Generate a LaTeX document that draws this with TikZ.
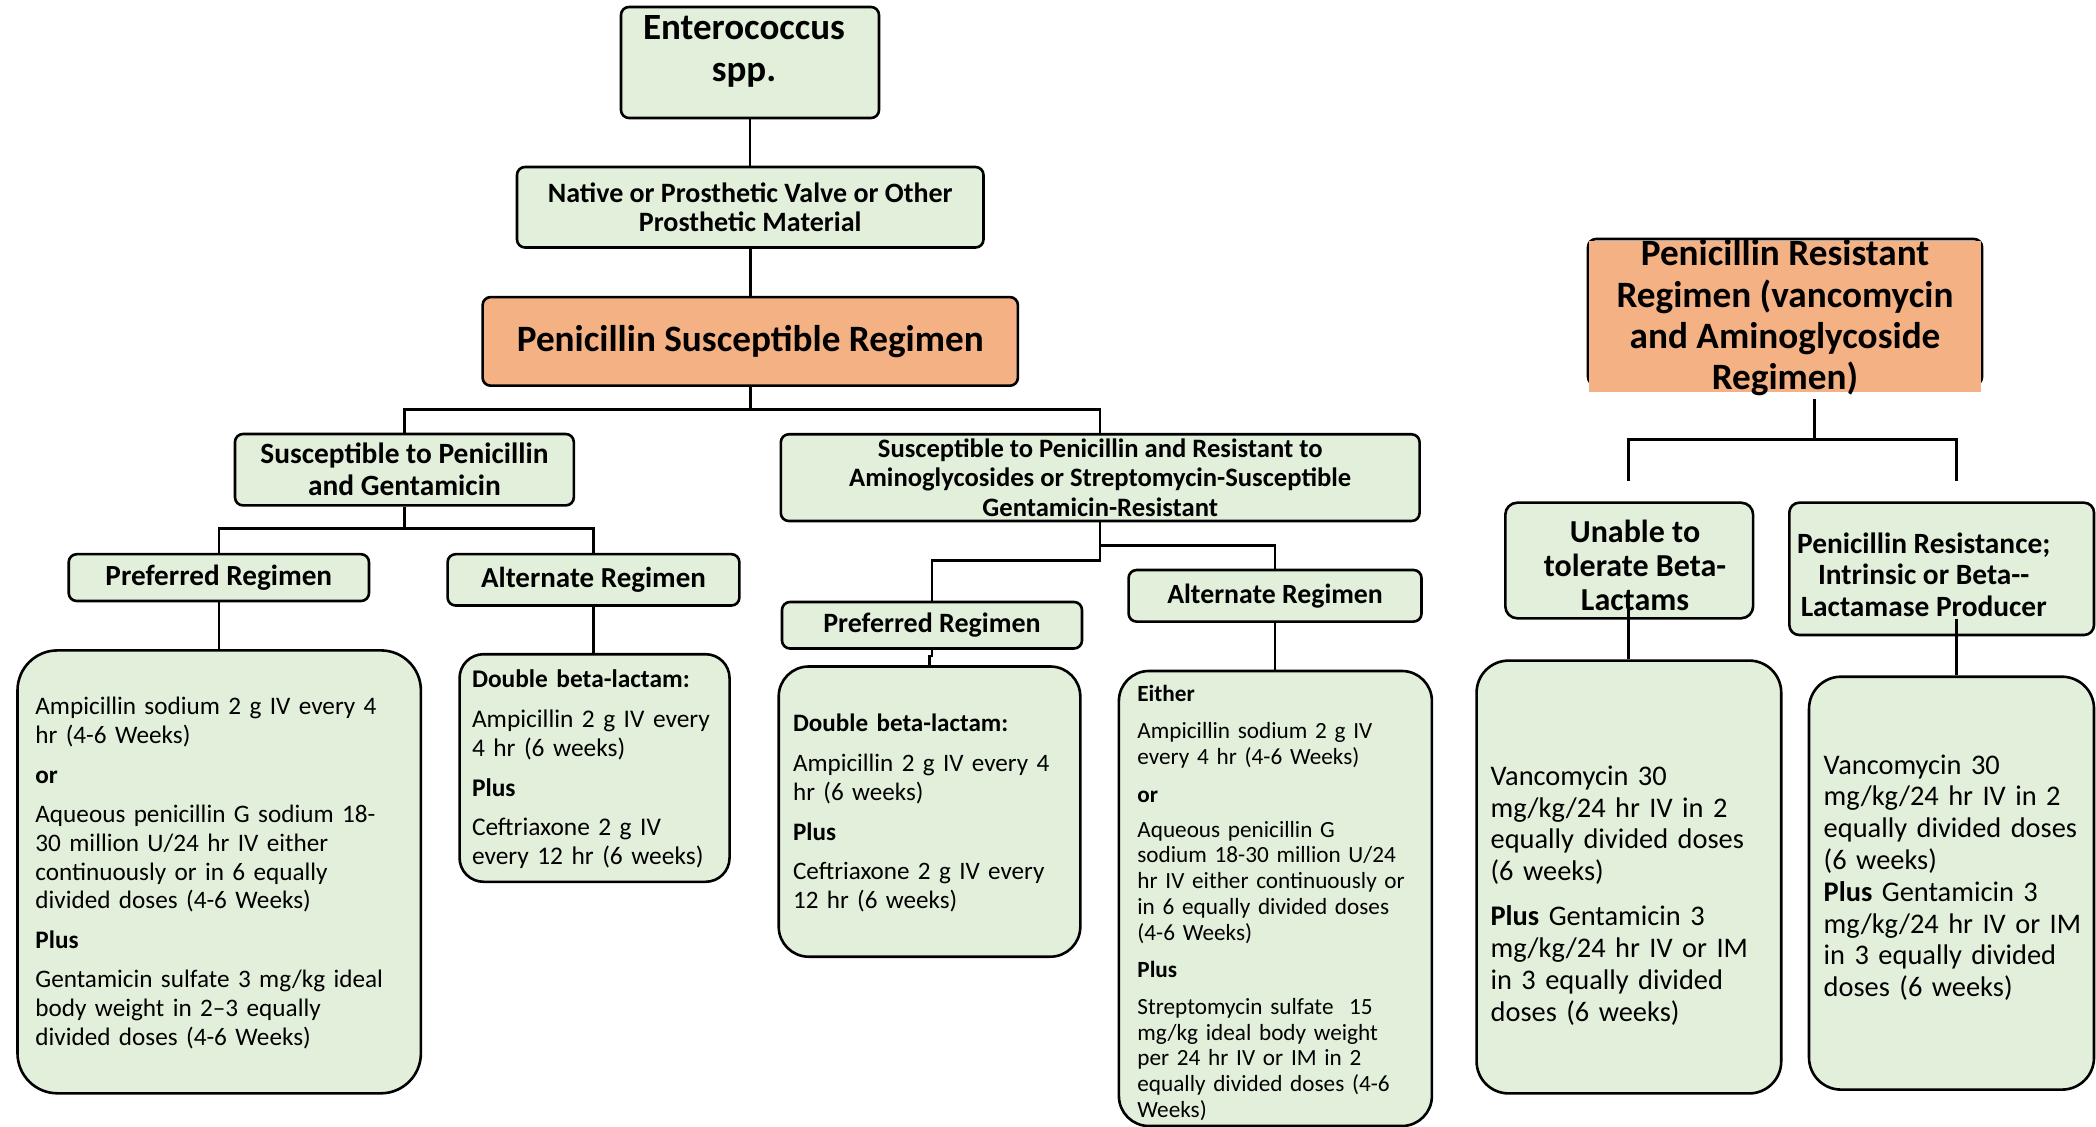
\documentclass[tikz,border=0pt]{standalone}
\usepackage{fontspec}
\setmainfont{Carlito}
\definecolor{boxgreen}{RGB}{226,239,218}
\definecolor{boxorange}{RGB}{244,177,131}
\newcommand\setfsz[2]{\fontsize{#1}{#2}\selectfont}

\tikzset{
  hbox/.style={draw=black, fill=boxgreen, line width=1.3pt, rounded corners=4pt,
    inner sep=0pt, align=center},
  cbox/.style={draw=black, fill=boxgreen, line width=1.3pt, inner sep=0pt},
  htxt/.style={inner sep=0pt, align=center},
  body/.style={inner sep=0pt, anchor=base west, align=left},
  link/.style={draw=black, line width=1.25pt},
}

\begin{document}
\begin{tikzpicture}[x=0.5pt,y=-0.5pt]
\fill[white] (0,0) rectangle (2096,1127);
\useasboundingbox (0,0) rectangle (2096,1127);

% ---------- top of the penicillin-susceptible tree ----------
\node[hbox, minimum width=129pt, minimum height=55.5pt] (ent) at (750,62.5) {};
\node[htxt, text width=129pt, anchor=base, font=\bfseries\setfsz{18.5pt}{20.8pt}]
  (enttxt) at (744,39.5) {Enterococcus\\spp.};

\node[hbox, minimum width=233.25pt, minimum height=40.25pt,
  font=\bfseries\setfsz{14pt}{14.6pt}] (nat) at (750.25,207.25)
  {Native or Prosthetic Valve or Other\\Prosthetic Material};

\node[hbox, fill=boxorange, minimum width=267.65pt, minimum height=44.3pt,
  font=\bfseries\setfsz{18.6pt}{20pt}] (psr) at (750.25,341.4)
  {Penicillin Susceptible Regimen};

\node[hbox, minimum width=169.4pt, minimum height=35.7pt,
  font=\bfseries\setfsz{14.7pt}{16pt}] (sg) at (404.4,469.7)
  {Susceptible to Penicillin\\and Gentamicin};

\node[hbox, minimum width=319.4pt, minimum height=43.35pt,
  font=\bfseries\setfsz{13.3pt}{14.6pt}] (sr) at (1100.2,477.65)
  {Susceptible to Penicillin and Resistant to\\Aminoglycosides or Streptomycin-Susceptible\\Gentamicin-Resistant};

\node[hbox, minimum width=150.15pt, minimum height=23.4pt,
  font=\bfseries\setfsz{14.6pt}{16pt}] (pl) at (218.85,577.6) {Preferred Regimen};
\node[hbox, minimum width=145.9pt, minimum height=25.65pt,
  font=\bfseries\setfsz{14.5pt}{16pt}] (al) at (593.5,579.85) {Alternate Regimen};
\node[hbox, minimum width=150pt, minimum height=23.25pt,
  font=\bfseries\setfsz{14pt}{16pt}] (pr) at (932,625.25) {Preferred Regimen};
\node[hbox, minimum width=146.45pt, minimum height=25.8pt,
  font=\bfseries\setfsz{13.9pt}{16pt}] (ar) at (1275.05,595.8) {Alternate Regimen};

% ---------- regimen boxes (susceptible) ----------
\node[cbox, rounded corners=20pt, minimum width=201.7pt, minimum height=221.45pt]
  (plc) at (219.2,871.85) {};
\node[body, text width=192pt, font=\setfsz{12.6pt}{14.3pt}] (plctxt) at (35,714.5)
  {Ampicillin sodium 2 g IV every 4\\
   hr (4-6 Weeks)\\[5.75pt]
   \textbf{or}\\[5.5pt]
   Aqueous penicillin G sodium 18-\\
   30 million U/24 hr IV either\\
   continuously or in 6 equally\\
   divided doses (4-6 Weeks)\\[5.5pt]
   \textbf{Plus}\\[5.5pt]
   Gentamicin sulfate 3 mg/kg ideal\\
   body weight in 2–3 equally\\
   divided doses (4-6 Weeks)};

\node[cbox, rounded corners=12pt, minimum width=135pt, minimum height=113.8pt]
  (alc) at (594.55,768) {};
\node[body, text width=128pt, font=\setfsz{12.7pt}{14.5pt}] (alctxt) at (471.6,687)
  {\textbf{Double beta-lactam:}\\[5.5pt]
   Ampicillin 2 g IV every\\
   4 hr (6 weeks)\\[5.5pt]
   \textbf{Plus}\\[5.25pt]
   Ceftriaxone 2 g IV\\
   every 12 hr (6 weeks)};

\node[cbox, rounded corners=15pt, minimum width=150.8pt, minimum height=145.1pt]
  (prc) at (929.5,811.6) {};
\node[body, text width=140pt, font=\setfsz{12.55pt}{14.5pt}] (prctxt) at (792.7,731.5)
  {\textbf{Double beta-lactam:}\\[5.25pt]
   Ampicillin 2 g IV every 4\\
   hr (6 weeks)\\[5.5pt]
   \textbf{Plus}\\[5.25pt]
   Ceftriaxone 2 g IV every\\
   12 hr (6 weeks)};

\node[cbox, rounded corners=15pt, minimum width=156.5pt, minimum height=227.5pt]
  (arc) at (1275.4,898.5) {};
\node[body, text width=145pt, font=\setfsz{11.6pt}{12.9pt}] (arctxt) at (1137,701.3)
  {\textbf{Either}\\[5.75pt]
   Ampicillin sodium 2 g IV\\
   every 4 hr (4-6 Weeks)\\[6pt]
   \textbf{or}\\[4.5pt]
   Aqueous penicillin G\\
   sodium 18-30 million U/24\\
   hr IV either continuously or\\
   in 6 equally divided doses\\
   (4-6 Weeks)\\[5.75pt]
   \textbf{Plus}\\[5.5pt]
   Streptomycin sulfate\ \ 15\\
   mg/kg ideal body weight\\
   per 24 hr IV or IM in 2\\
   equally divided doses (4-6\\
   Weeks)};

% ---------- penicillin-resistant tree ----------
\node[draw=black, line width=1.3pt, rounded corners=4pt, inner sep=0pt,
  minimum width=197pt, minimum height=73pt] (prr) at (1785,312) {};
\node[fill=boxorange, inner sep=0pt, minimum width=196pt, minimum height=75.5pt]
  (prrfill) at (1785.25,316.2) {};
\node[htxt, font=\bfseries\setfsz{18.6pt}{20.7pt}] (prrtxt) at (1785,318)
  {Penicillin Resistant\\Regimen (vancomycin\\and Aminoglycoside\\Regimen)};

\node[hbox, rounded corners=6pt, minimum width=123.9pt, minimum height=57.8pt]
  (un) at (1629.2,560.5) {};
\node[htxt, font=\bfseries\setfsz{16pt}{17pt}] (untxt) at (1635,565)
  {Unable to\\tolerate Beta-\\Lactams};

\node[hbox, rounded corners=5pt, minimum width=152.35pt, minimum height=66.15pt]
  (pb) at (1941.65,568.85) {};
\node[htxt, font=\bfseries\setfsz{14.7pt}{15.8pt}] (pbtxt) at (1923.7,574.5)
  {Penicillin Resistance;\\Intrinsic or Beta-{}-\\Lactamase Producer};

\node[cbox, rounded corners=16pt, minimum width=152.3pt, minimum height=216.4pt]
  (unc) at (1628.9,877) {};
\node[body, text width=142pt, font=\setfsz{14.2pt}{15.9pt}] (unctxt) at (1490.2,785.3)
  {Vancomycin 30\\
   mg/kg/24 hr IV in 2\\
   equally divided doses\\
   (6 weeks)\\[6.6pt]
   \textbf{Plus} Gentamicin 3\\
   mg/kg/24 hr IV or IM\\
   in 3 equally divided\\
   doses (6 weeks)};

\node[cbox, rounded corners=16pt, minimum width=142.5pt, minimum height=206.45pt]
  (pbc) at (1951.5,883.15) {};
\node[body, text width=134pt, font=\setfsz{14.2pt}{15.9pt}] (pbctxt) at (1823.3,774)
  {Vancomycin 30\\
   mg/kg/24 hr IV in 2\\
   equally divided doses\\
   (6 weeks)\\
   \textbf{Plus} Gentamicin 3\\
   mg/kg/24 hr IV or IM\\
   in 3 equally divided\\
   doses (6 weeks)};

% ---------- connectors ----------
\coordinate (busA) at (750.25,409.6);
\coordinate (busB) at (404.4,528.6);
\coordinate (busC) at (1100.2,560.6);
\coordinate (busD) at (1100.2,545.6);

\draw[link] (ent.south) -- (ent.south |- nat.north);
\draw[link] (nat.south) -- (nat.south |- psr.north);
\draw[link] (psr.south) -- (busA) -| (sg.north);
\draw[link] (busA) -| (sr.north);
\draw[link] (sg.south) -- (busB) -| (pl.north);
\draw[link] (busB) -| (al.north);
\draw[link] (pl.south) -- (pl.south |- plc.north);
\draw[link] (al.south) -- (al.south |- alc.north);
\draw[link] (sr.south) -- (busC) -| (pr.north);
\draw[link] (sr.south) -- (busD) -| (ar.north);
\draw[link] (pr.south) -- ++(0,6) -| (prc.north);
\draw[link] (ar.south) -- (ar.south |- arc.north);

\coordinate (resTop) at (1814.7,399);
\coordinate (resBus) at (1814.7,439.3);
\coordinate (unEnd) at (1628.6,481);
\coordinate (pbEnd) at (1956.4,481);
\draw[link] (resTop) -- (resBus) -| (unEnd);
\draw[link] (resBus) -| (pbEnd);

\coordinate (unFoot) at (1628.6,608);
\coordinate (pbFoot) at (1956.4,619.4);
\draw[link] (unFoot) -- (unFoot |- unc.north);
\draw[link] (pbFoot) -- (pbFoot |- pbc.north);
\end{tikzpicture}
\end{document}
